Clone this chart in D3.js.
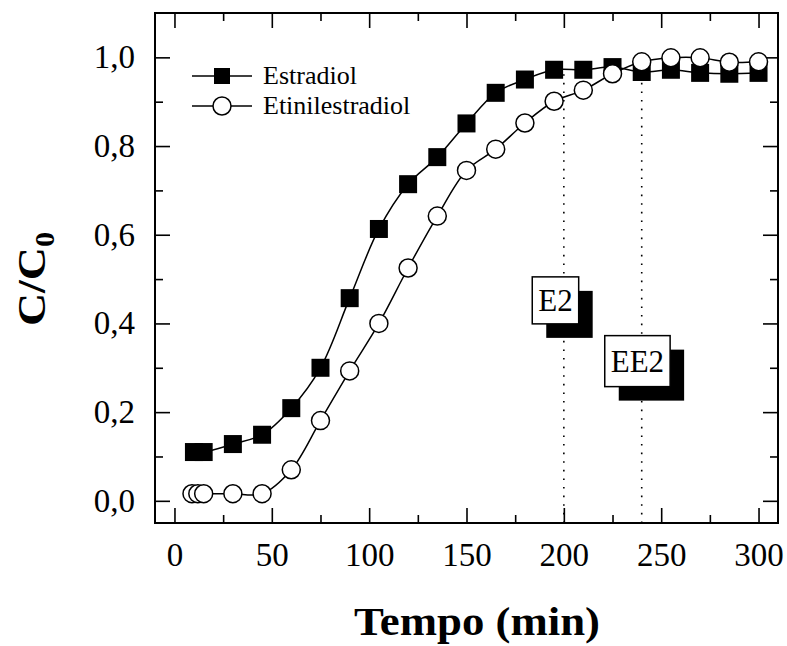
<!DOCTYPE html>
<html><head><meta charset="utf-8">
<script src="https://cdn.jsdelivr.net/npm/d3@7"></script>
<style>body{margin:0;background:#fff}</style>
</head><body><svg id="chart" width="787" height="646"></svg>
<script>
// ---- data ----
const e2Time = [10,15,30,45,60,75,90,105,120,135,150,165,180,195,210,225,240,255,270,285,300];
const e2Val  = [0.11,0.11,0.128,0.149,0.209,0.30,0.457,0.613,0.714,0.775,0.851,0.92,0.95,0.972,0.972,0.978,0.967,0.972,0.965,0.963,0.965];
const ee2Time = [9,12,15,30,45,60,75,90,105,120,135,150,165,180,195,210,225,240,255,270,285,300];
const ee2Val  = [0.016,0.016,0.016,0.016,0.016,0.07,0.181,0.293,0.40,0.525,0.642,0.745,0.793,0.852,0.901,0.926,0.963,0.99,0.999,0.999,0.989,0.99];
const seriesNames = ["Estradiol","Etinilestradiol"];
const xTicks = [0,50,100,150,200,250,300];
const xTickLabels = ["0","50","100","150","200","250","300"];
const xMinorTicks = [25,75,125,175,225,275];
const yTicks = [0,0.2,0.4,0.6,0.8,1.0];
const yTickLabels = ["0,0","0,2","0,4","0,6","0,8","1,0"];
const yMinorTicks = [0.1,0.3,0.5,0.7,0.9];
const markTimes = [200,240];
const markTops = [0.965,0.953];
const boxLabels = ["E2","EE2"];
const boxTimes = [195.7,237.8];
const boxVals = [0.452,0.315];

// ---- layout ----
const svg = d3.select("#chart");
const m = {l:155, t:13}, W = 623, H = 510;
const FONT = "'Liberation Serif','Times New Roman',Times,serif";
const x = d3.scaleLinear().domain([-10,310]).range([0,W]);
const y = d3.scaleLinear().domain([-0.05,1.1]).range([H,0]);
const g = svg.append("g").attr("transform",`translate(${m.l},${m.t})`);

function styleAxis(sel){
  sel.select(".domain").remove();
  sel.selectAll("line").attr("stroke","#000").attr("stroke-width",1.6);
  sel.attr("font-family",FONT).attr("font-size",33);
  sel.selectAll("text").attr("fill","#000");
}
// bottom
g.append("g").attr("transform",`translate(0,${H})`)
 .call(d3.axisBottom(x).tickValues(xTicks).tickFormat((d,i)=>xTickLabels[i]).tickSizeInner(-15).tickSizeOuter(0).tickPadding(20))
 .call(styleAxis);
g.append("g").attr("transform",`translate(0,${H})`)
 .call(d3.axisBottom(x).tickValues(xMinorTicks).tickFormat("").tickSizeInner(-8).tickSizeOuter(0))
 .call(styleAxis);
// top
g.append("g")
 .call(d3.axisTop(x).tickValues(xTicks).tickFormat("").tickSizeInner(-15).tickSizeOuter(0)).call(styleAxis);
g.append("g")
 .call(d3.axisTop(x).tickValues(xMinorTicks).tickFormat("").tickSizeInner(-8).tickSizeOuter(0)).call(styleAxis);
// left
g.append("g")
 .call(d3.axisLeft(y).tickValues(yTicks).tickFormat((d,i)=>yTickLabels[i]).tickSizeInner(-15).tickSizeOuter(0).tickPadding(20))
 .call(styleAxis);
g.append("g")
 .call(d3.axisLeft(y).tickValues(yMinorTicks).tickFormat("").tickSizeInner(-8).tickSizeOuter(0)).call(styleAxis);
// right
g.append("g").attr("transform",`translate(${W},0)`)
 .call(d3.axisRight(y).tickValues(yTicks).tickFormat("").tickSizeInner(-15).tickSizeOuter(0)).call(styleAxis);
g.append("g").attr("transform",`translate(${W},0)`)
 .call(d3.axisRight(y).tickValues(yMinorTicks).tickFormat("").tickSizeInner(-8).tickSizeOuter(0)).call(styleAxis);

// frame
g.append("rect").attr("x",0).attr("y",0).attr("width",W).attr("height",H)
 .attr("fill","none").attr("stroke","#000").attr("stroke-width",2);

// dotted marker lines
markTimes.forEach((t,i)=>{
  g.append("line").attr("x1",x(t)).attr("x2",x(t)).attr("y1",H).attr("y2",y(markTops[i]))
   .attr("stroke","#000").attr("stroke-width",1.6).attr("stroke-dasharray","1.6,7");
});

// annotation boxes with shadow
boxLabels.forEach((lab,i)=>{
  const cx = x(boxTimes[i]), cy = y(boxVals[i]);
  const t = g.append("text").attr("x",cx).attr("y",cy+11).attr("text-anchor","middle")
    .attr("font-family",FONT).attr("font-size",31).text(lab);
  const bw = t.node().getComputedTextLength()+12, bh = lab.length>2?51:47;
  t.remove();
  g.append("rect").attr("x",cx-bw/2+14).attr("y",cy-bh/2+14).attr("width",bw).attr("height",bh).attr("fill","#000");
  g.append("rect").attr("x",cx-bw/2).attr("y",cy-bh/2).attr("width",bw).attr("height",bh)
   .attr("fill","#fff").attr("stroke","#000").attr("stroke-width",1.5);
  g.append("text").attr("x",cx).attr("y",cy+11).attr("text-anchor","middle")
    .attr("font-family",FONT).attr("font-size",31).attr("fill","#000").text(lab);
});

// series
const line = d3.line().x(d=>x(d[0])).y(d=>y(d[1])).curve(d3.curveCatmullRom.alpha(0.5));
const e2 = e2Time.map((t,i)=>[t,e2Val[i]]);
const ee2 = ee2Time.map((t,i)=>[t,ee2Val[i]]);
g.append("path").datum(e2).attr("d",line).attr("fill","none").attr("stroke","#000").attr("stroke-width",1.5);
g.append("path").datum(ee2).attr("d",line).attr("fill","none").attr("stroke","#000").attr("stroke-width",1.5);
g.selectAll(".sq").data(e2).enter().append("rect")
 .attr("x",d=>x(d[0])-9).attr("y",d=>y(d[1])-9).attr("width",18).attr("height",18).attr("fill","#000");
g.selectAll(".ci").data(ee2).enter().append("circle")
 .attr("cx",d=>x(d[0])).attr("cy",d=>y(d[1])).attr("r",9)
 .attr("fill","#fff").attr("stroke","#000").attr("stroke-width",1.5);

// legend
const leg = svg.append("g");
[0,1].forEach(i=>{
  const ly = 76 + i*30;
  leg.append("line").attr("x1",192).attr("x2",252).attr("y1",ly).attr("y2",ly).attr("stroke","#000").attr("stroke-width",1.5);
  if(i===0) leg.append("rect").attr("x",214).attr("y",ly-8).attr("width",16).attr("height",16).attr("fill","#000");
  else leg.append("circle").attr("cx",222).attr("cy",ly).attr("r",9).attr("fill","#fff").attr("stroke","#000").attr("stroke-width",1.5);
  leg.append("text").attr("x",263).attr("y",ly+8).attr("font-family",FONT).attr("font-size",26).attr("fill","#000").text(seriesNames[i]);
});

// axis titles
svg.append("text").attr("transform","translate(477,635) scale(1.12,1)").attr("text-anchor","middle")
 .attr("font-family",FONT).attr("font-weight","bold").attr("font-size",40).attr("fill","#000").text("Tempo (min)");
const yt = svg.append("text").attr("transform","translate(45,279) rotate(-90) scale(1.12,1)").attr("text-anchor","middle")
 .attr("font-family",FONT).attr("font-weight","bold").attr("font-size",41).attr("fill","#000");
yt.append("tspan").text("C/C");
yt.append("tspan").attr("dy",9).attr("font-size",27).text("0");
</script></body></html>
